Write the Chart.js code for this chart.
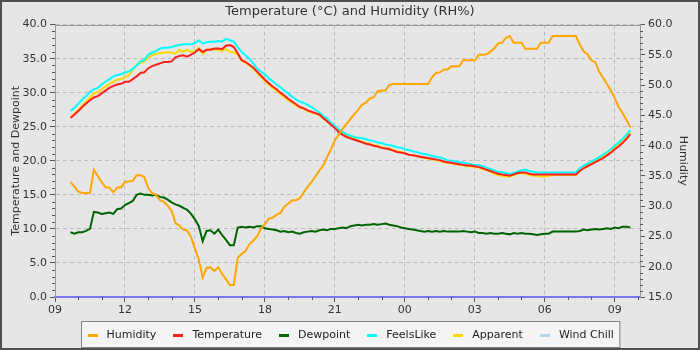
<!DOCTYPE html>
<html>
<head>
<meta charset="utf-8">
<title>Temperature and Humidity</title>
<script src="https://cdn.jsdelivr.net/npm/chart.js@4.4.1/dist/chart.umd.min.js"></script>
<style>
  html, body { margin: 0; padding: 0; background: #e6e6e6; }
  canvas { display: block; }
</style>
</head>
<body>
<canvas id="chart" width="700" height="350"></canvas>
<script>
// 10-minute readings, 09:40 to 09:40 the next morning
const times = [
  '09:40', '09:50',
  '10:00', '10:10', '10:20', '10:30', '10:40', '10:50',
  '11:00', '11:10', '11:20', '11:30', '11:40', '11:50',
  '12:00', '12:10', '12:20', '12:30', '12:40', '12:50',
  '13:00', '13:10', '13:20', '13:30', '13:40', '13:50',
  '14:00', '14:10', '14:20', '14:30', '14:40', '14:50',
  '15:00', '15:10', '15:20', '15:30', '15:40', '15:50',
  '16:00', '16:10', '16:20', '16:30', '16:40', '16:50',
  '17:00', '17:10', '17:20', '17:30', '17:40', '17:50',
  '18:00', '18:10', '18:20', '18:30', '18:40', '18:50',
  '19:00', '19:10', '19:20', '19:30', '19:40', '19:50',
  '20:00', '20:10', '20:20', '20:30', '20:40', '20:50',
  '21:00', '21:10', '21:20', '21:30', '21:40', '21:50',
  '22:00', '22:10', '22:20', '22:30', '22:40', '22:50',
  '23:00', '23:10', '23:20', '23:30', '23:40', '23:50',
  '00:00', '00:10', '00:20', '00:30', '00:40', '00:50',
  '01:00', '01:10', '01:20', '01:30', '01:40', '01:50',
  '02:00', '02:10', '02:20', '02:30', '02:40', '02:50',
  '03:00', '03:10', '03:20', '03:30', '03:40', '03:50',
  '04:00', '04:10', '04:20', '04:30', '04:40', '04:50',
  '05:00', '05:10', '05:20', '05:30', '05:40', '05:50',
  '06:00', '06:10', '06:20', '06:30', '06:40', '06:50',
  '07:00', '07:10', '07:20', '07:30', '07:40', '07:50',
  '08:00', '08:10', '08:20', '08:30', '08:40', '08:50',
  '09:00', '09:10', '09:20', '09:30', '09:40'
];

const humidity = [
  34.0, 33.2, 32.4, 32.2, 32.2, 32.2, 36.0, 35.0, 34.0, 33.1,
  33.1, 32.3, 33.1, 33.1, 34.0, 34.1, 34.2, 35.1, 35.1, 34.8,
  33.0, 32.1, 31.9, 31.0, 30.7, 30.1, 29.2, 27.2, 26.8, 26.1,
  26.0, 24.9, 23.0, 21.2, 18.2, 19.8, 19.9, 19.3, 19.9, 18.8,
  17.9, 17.0, 17.0, 21.5, 22.1, 22.6, 23.7, 24.3, 25.0, 26.3,
  27.1, 27.9, 28.1, 28.6, 28.9, 29.9, 30.4, 31.0, 31.0, 31.3,
  32.3, 33.2, 34.0, 34.9, 35.9, 36.7, 38.1, 39.4, 40.9, 41.8,
  42.8, 43.6, 44.4, 45.2, 45.9, 46.8, 47.1, 47.8, 48.0, 49.0,
  49.1, 49.1, 50.0, 50.2, 50.2, 50.2, 50.2, 50.2, 50.2, 50.2,
  50.2, 50.2, 50.2, 51.3, 52.0, 52.1, 52.6, 52.6, 53.1, 53.1,
  53.1, 54.1, 54.1, 54.1, 54.1, 55.0, 55.0, 55.1, 55.5, 56.1,
  56.9, 57.0, 57.8, 58.1, 57.0, 57.0, 57.0, 56.0, 56.0, 56.0,
  56.0, 57.0, 57.0, 57.0, 58.1, 58.1, 58.1, 58.1, 58.1, 58.1,
  58.1, 56.7, 55.6, 55.1, 54.1, 53.8, 52.2, 51.2, 50.2, 49.1,
  47.9, 46.4, 45.4, 44.3, 43.0
];

const temperature = [
  26.3, 26.8, 27.3, 27.9, 28.4, 28.9, 29.3, 29.5, 29.9, 30.3,
  30.7, 31.0, 31.2, 31.3, 31.6, 31.6, 32.0, 32.4, 32.9, 33.0,
  33.6, 33.9, 34.1, 34.3, 34.5, 34.5, 34.6, 35.2, 35.4, 35.5,
  35.3, 35.6, 35.9, 36.4, 36.0, 36.3, 36.3, 36.5, 36.5, 36.4,
  36.9, 37.0, 36.7, 35.8, 34.8, 34.5, 34.1, 33.7, 33.1, 32.5,
  31.9, 31.4, 30.9, 30.5, 30.0, 29.6, 29.1, 28.7, 28.3, 27.9,
  27.7, 27.4, 27.2, 27.0, 26.8, 26.3, 25.8, 25.3, 24.8, 24.2,
  23.8, 23.5, 23.3, 23.1, 22.9, 22.7, 22.5, 22.4, 22.2, 22.1,
  21.9, 21.8, 21.7, 21.5, 21.3, 21.2, 21.1, 20.9, 20.8, 20.7,
  20.6, 20.5, 20.4, 20.3, 20.2, 20.1, 19.9, 19.8, 19.7, 19.6,
  19.5, 19.4, 19.3, 19.3, 19.2, 19.1, 18.9, 18.7, 18.5, 18.3,
  18.1, 18.0, 17.9, 17.8, 18.0, 18.2, 18.3, 18.3, 18.1, 18.0,
  18.0, 18.0, 18.0, 18.0, 18.0, 18.0, 18.0, 18.0, 18.0, 18.0,
  18.0, 18.5, 18.9, 19.2, 19.5, 19.8, 20.1, 20.4, 20.8, 21.2,
  21.7, 22.1, 22.6, 23.2, 23.9
];

const dewpoint = [
  9.5, 9.3, 9.5, 9.5, 9.7, 10.0, 12.5, 12.4, 12.2, 12.3,
  12.4, 12.2, 12.9, 13.0, 13.5, 13.8, 14.1, 15.0, 15.2, 15.0,
  15.0, 14.9, 15.0, 14.7, 14.6, 14.3, 13.9, 13.6, 13.4, 13.1,
  12.8, 12.2, 11.4, 10.4, 8.2, 9.7, 9.8, 9.3, 9.9, 9.1,
  8.4, 7.6, 7.6, 10.2, 10.3, 10.2, 10.3, 10.2, 10.4, 10.4,
  10.1, 10.0, 9.9, 9.8, 9.6, 9.7, 9.5, 9.6, 9.4, 9.3,
  9.5, 9.6, 9.7, 9.6, 9.8, 9.9, 9.8, 10.0, 10.0, 10.1,
  10.2, 10.1, 10.4, 10.5, 10.6, 10.5, 10.6, 10.6, 10.7, 10.6,
  10.7, 10.8, 10.6, 10.5, 10.4, 10.2, 10.1, 10.0, 9.9, 9.8,
  9.7, 9.6, 9.7, 9.6, 9.7, 9.6, 9.7, 9.6, 9.6, 9.6,
  9.6, 9.7, 9.6, 9.5, 9.6, 9.4, 9.4, 9.3, 9.4, 9.3,
  9.3, 9.4, 9.3, 9.2, 9.4, 9.3, 9.4, 9.3, 9.3, 9.2,
  9.1, 9.2, 9.3, 9.3, 9.6, 9.6, 9.6, 9.6, 9.6, 9.6,
  9.6, 9.7, 9.9, 9.8, 9.9, 10.0, 9.9, 10.0, 10.1, 10.0,
  10.2, 10.1, 10.3, 10.3, 10.2
];

const feelsLike = [
  27.3, 27.8, 28.4, 29.0, 29.5, 30.1, 30.5, 30.7, 31.2, 31.6,
  32.0, 32.4, 32.6, 32.7, 33.0, 33.1, 33.5, 34.0, 34.6, 34.8,
  35.6, 35.9, 36.1, 36.5, 36.6, 36.6, 36.7, 36.9, 37.0, 37.1,
  37.1, 37.1, 37.3, 37.7, 37.2, 37.4, 37.5, 37.5, 37.6, 37.5,
  37.9, 37.7, 37.5, 36.7, 36.0, 35.5, 35.0, 34.3, 33.5, 33.1,
  32.7, 32.1, 31.7, 31.2, 30.8, 30.3, 29.9, 29.4, 29.0, 28.7,
  28.5, 28.2, 27.9, 27.5, 27.1, 26.6, 26.2, 25.6, 25.1, 24.6,
  24.2, 23.9, 23.7, 23.5, 23.4, 23.3, 23.2, 23.0, 22.9, 22.7,
  22.6, 22.4, 22.3, 22.2, 22.0, 21.9, 21.7, 21.6, 21.4, 21.3,
  21.1, 21.0, 20.9, 20.7, 20.6, 20.5, 20.3, 20.1, 20.0, 19.9,
  19.8, 19.7, 19.6, 19.5, 19.4, 19.4, 19.2, 19.0, 18.8, 18.6,
  18.4, 18.3, 18.2, 18.1, 18.2, 18.4, 18.6, 18.7, 18.5, 18.4,
  18.3, 18.3, 18.3, 18.3, 18.3, 18.3, 18.3, 18.3, 18.3, 18.3,
  18.3, 18.9, 19.3, 19.6, 19.9, 20.2, 20.5, 20.9, 21.3, 21.7,
  22.2, 22.7, 23.2, 23.8, 24.5
];

const apparent = [
  26.4, 26.9, 27.5, 28.1, 28.7, 29.3, 29.9, 30.1, 30.5, 30.9,
  31.3, 31.6, 31.9, 32.0, 32.2, 32.6, 33.3, 34.1, 34.4, 34.6,
  35.2, 35.5, 35.7, 35.8, 35.9, 35.9, 35.9, 35.7, 36.3, 36.0,
  36.3, 36.0, 36.1, 36.6, 35.7, 36.2, 36.4, 36.3, 36.3, 36.1,
  36.4, 36.0, 35.9, 35.6, 34.7, 34.4, 34.0, 33.5, 32.9, 32.3,
  31.7, 31.2, 30.7, 30.3, 29.8, 29.3, 28.9, 28.5, 28.1, 27.8,
  27.6, 27.3, 27.1, 26.9, 26.7, 26.2, 25.8, 25.4, 24.9, 24.4,
  24.0, 23.7, 23.5, 23.3, 23.0, 22.8, 22.6, 22.5, 22.3, 22.2,
  22.0, 21.9, 21.8, 21.6, 21.4, 21.3, 21.1, 20.9, 20.8, 20.7,
  20.5, 20.4, 20.3, 20.2, 20.1, 20.0, 19.8, 19.7, 19.6, 19.5,
  19.4, 19.3, 19.2, 19.2, 19.1, 19.0, 18.8, 18.6, 18.4, 18.1,
  17.9, 17.8, 17.7, 17.7, 17.9, 18.1, 18.2, 18.1, 17.9, 17.8,
  17.8, 17.7, 17.7, 17.8, 17.9, 17.9, 17.9, 17.9, 17.9, 17.9,
  17.9, 18.6, 19.1, 19.4, 19.7, 20.0, 20.3, 20.7, 21.1, 21.5,
  22.0, 22.4, 22.9, 23.5, 24.2
];

// no wind chill readings in this period (legend entry only)
const windChill = [];

const FONT = 'DejaVu Sans';
const TEXT = '#333333';
const TICK = '#555555';
const GRID = '#bdbdbd';
const AXIS = '#999999';

// minutes since 09:00 of the first day, rolling over past midnight
const minutes = [];
times.forEach(t => {
  const [h, m] = t.split(':').map(Number);
  let v = h * 60 + m - 540;
  while (minutes.length && v < minutes[minutes.length - 1]) v += 1440;
  minutes.push(v);
});

function series(values) {
  return values.map((v, i) => ({ x: minutes[i], y: v }));
}

function hourLabel(v) {
  const h = (9 + Math.round(v / 60)) % 24;
  return String(h).padStart(2, '0');
}

// background, frame, minor ticks and the boxed legend
const decorations = {
  id: 'decorations',
  beforeDraw(chart) {
    const ctx = chart.ctx;
    ctx.save();
    ctx.fillStyle = '#e6e6e6';
    ctx.fillRect(0, 0, chart.width, chart.height);
    ctx.restore();
  },
  afterDraw(chart) {
    const { ctx, chartArea: a, scales } = chart;
    ctx.save();

    // minor ticks
    ctx.strokeStyle = TICK;
    ctx.lineWidth = 1;
    ctx.beginPath();
    for (let v = 0; v <= 40; v++) {
      if (v % 5 === 0) continue;
      const y = Math.round(scales.y.getPixelForValue(v)) + 0.5;
      ctx.moveTo(a.left - 3, y);
      ctx.lineTo(a.left, y);
    }
    for (let v = 15; v <= 60; v++) {
      if (v % 5 === 0) continue;
      const y = Math.round(scales.y1.getPixelForValue(v)) + 0.5;
      ctx.moveTo(a.right, y);
      ctx.lineTo(a.right + 3, y);
    }
    for (let m = 60; m <= scales.x.max; m += 60) {
      if (m % 180 === 0) continue;
      const x = Math.round(scales.x.getPixelForValue(m)) + 0.5;
      ctx.moveTo(x, a.bottom);
      ctx.lineTo(x, a.bottom + 3);
    }
    ctx.stroke();

    // solid top edge of the plot
    ctx.strokeStyle = AXIS;
    ctx.beginPath();
    ctx.moveTo(a.left, Math.round(a.top) + 0.5);
    ctx.lineTo(a.right, Math.round(a.top) + 0.5);
    ctx.stroke();

    // legend box under the axis
    const sets = chart.data.datasets;
    ctx.font = '11px "' + FONT + '"';
    const mark = 10, gap = 9, spacing = 17, pad = 6;
    const widths = sets.map(d => mark + gap + ctx.measureText(d.label).width);
    const total = widths.reduce((s, w) => s + w, 0) + spacing * (sets.length - 1);
    const left = Math.round((chart.width - total) / 2 - pad) + 0.5;
    const top = 321.5, h = 26;
    ctx.fillStyle = '#f4f4f4';
    ctx.fillRect(left, top, total + pad * 2, h);
    ctx.strokeStyle = '#808080';
    ctx.strokeRect(left, top, total + pad * 2, h);
    let x = left + pad;
    const cy = top + h / 2;
    ctx.textBaseline = 'middle';
    sets.forEach((d, i) => {
      ctx.fillStyle = d.borderColor;
      ctx.fillRect(Math.round(x), Math.round(cy) - 1, mark, 3);
      ctx.fillStyle = '#222222';
      ctx.fillText(d.label, x + mark + gap, cy + 0.5);
      x += widths[i] + spacing;
    });

    // outer frame
    ctx.strokeStyle = '#505050';
    ctx.lineWidth = 2;
    ctx.strokeRect(1, 1, chart.width - 2, chart.height - 2);
    ctx.restore();
  }
};

function line(label, values, color, axis) {
  return {
    label: label,
    data: series(values),
    yAxisID: axis,
    borderColor: color,
    backgroundColor: color,
    borderWidth: 2,
    pointRadius: 0,
    tension: 0,
    fill: false
  };
}

new Chart(document.getElementById('chart'), {
  type: 'line',
  data: {
    datasets: [
      line('Humidity', humidity, '#ffa500', 'y1'),
      line('Temperature', temperature, '#ff2020', 'y'),
      line('Dewpoint', dewpoint, '#006400', 'y'),
      line('FeelsLike', feelsLike, '#00ffff', 'y'),
      line('Apparent', apparent, '#ffd700', 'y'),
      line('Wind Chill', windChill, '#add8e6', 'y')
    ]
  },
  options: {
    responsive: false,
    animation: false,
    layout: { padding: { top: 0, left: 0, right: 0, bottom: 35 } },
    plugins: {
      legend: { display: false },
      tooltip: { enabled: false },
      title: {
        display: true,
        text: 'Temperature (°C) and Humidity (RH%)',
        color: TEXT,
        font: { family: FONT, size: 13, weight: 'normal' },
        padding: { top: 4, bottom: 5 }
      }
    },
    scales: {
      x: {
        type: 'linear',
        min: 0,
        max: 1505,
        afterFit: s => { s.height = 18; },
        ticks: {
          stepSize: 180,
          includeBounds: false,
          autoSkip: false,
          maxRotation: 0,
          padding: 2,
          color: TEXT,
          font: { family: FONT, size: 11 },
          callback: v => hourLabel(v)
        },
        grid: { color: GRID, tickColor: TICK, tickLength: 5, tickBorderDash: [] },
        border: { color: '#7878f0', width: 2, dash: [4, 3] }
      },
      y: {
        position: 'left',
        min: 0,
        max: 40,
        afterFit: s => { s.width = 55; },
        ticks: {
          stepSize: 5,
          padding: 3,
          color: TEXT,
          font: { family: FONT, size: 11 },
          callback: v => v.toFixed(1)
        },
        grid: { color: GRID, tickColor: TICK, tickLength: 5, tickBorderDash: [] },
        border: { color: AXIS, dash: [4, 3] },
        title: {
          display: true,
          text: 'Temperature and Dewpoint',
          color: TEXT,
          font: { family: FONT, size: 11 },
          padding: { top: 10, bottom: 0 }
        }
      },
      y1: {
        position: 'right',
        min: 15,
        max: 60,
        afterFit: s => { s.width = 60; },
        ticks: {
          stepSize: 5,
          padding: 3,
          color: TEXT,
          font: { family: FONT, size: 11 },
          callback: v => v.toFixed(1)
        },
        grid: { drawOnChartArea: false, color: GRID, tickColor: TICK, tickLength: 5 },
        border: { color: AXIS },
        title: {
          display: true,
          text: 'Humidity',
          color: TEXT,
          font: { family: FONT, size: 11 },
          padding: { top: 11, bottom: 0 }
        }
      }
    }
  },
  plugins: [decorations]
});
</script>
</body>
</html>
